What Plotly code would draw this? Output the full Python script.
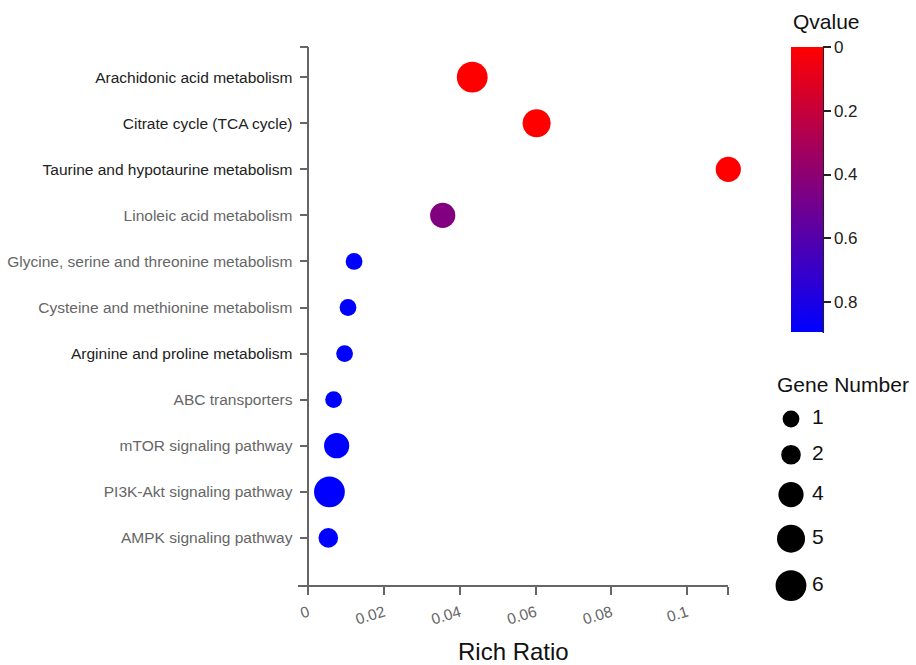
import plotly.graph_objects as go

# Enrichment results (top to bottom)
pathways = [
    "Arachidonic acid metabolism",
    "Citrate cycle (TCA cycle)",
    "Taurine and hypotaurine metabolism",
    "Linoleic acid metabolism",
    "Glycine, serine and threonine metabolism",
    "Cysteine and methionine metabolism",
    "Arginine and proline metabolism",
    "ABC transporters",
    "mTOR signaling pathway",
    "PI3K-Akt signaling pathway",
    "AMPK signaling pathway",
]
rich_ratio = [0.0433, 0.0603, 0.1109, 0.0355, 0.0121, 0.0105, 0.0096, 0.0067, 0.0075, 0.0056, 0.0053]
gene_number = [6, 5, 4, 4, 1, 1, 1, 1, 4, 6, 2]
qvalue = [0.0, 0.0, 0.0, 0.446, 0.892, 0.892, 0.892, 0.892, 0.892, 0.892, 0.892]
dark_labels = {"Arachidonic acid metabolism", "Citrate cycle (TCA cycle)",
               "Taurine and hypotaurine metabolism", "Arginine and proline metabolism"}

x_ticks = [0, 0.02, 0.04, 0.06, 0.08, 0.1]
x_tick_text = ["0", "0.02", "0.04", "0.06", "0.08", "0.1"]
q_ticks = [0, 0.2, 0.4, 0.6, 0.8]
legend_genes = [1, 2, 4, 5, 6]

W, H = 916, 665
FONT = "Liberation Sans, Arial, sans-serif"


def diameter(n):
    return 14 + 2.8 * n


qmax = max(qvalue)
x_max = max(rich_ratio)
x_min = -0.0027
y_top, y_bot = -0.655, len(pathways) + 0.045

# plot area in pixels
px_l, px_r, px_t, px_b = 298, 728.3, 47, 586
# size-key area in pixels
kx0, kx1, ky0, ky1 = 760, 916, 395, 620

fig = go.Figure()

fig.add_trace(go.Scatter(
    x=rich_ratio,
    y=list(range(len(pathways))),
    mode="markers",
    cliponaxis=False,
    marker=dict(
        size=[diameter(n) for n in gene_number],
        color=[-q for q in qvalue],
        cmin=-qmax, cmax=0,
        colorscale=[[0, "#0000ff"], [1, "#ff0000"]],
        line=dict(width=0),
        opacity=1,
        showscale=True,
        colorbar=dict(
            x=790.7 / W, xanchor="left", xpad=0,
            y=1 - 46.7 / H, yanchor="top", ypad=0,
            len=285, lenmode="pixels",
            thickness=32, thicknessmode="pixels",
            outlinewidth=0,
            tickmode="array",
            tickvals=[-t for t in q_ticks],
            ticktext=[f"{t:g}" for t in q_ticks],
            ticks="outside", ticklen=8, tickwidth=1.5, tickcolor="#222",
            tickfont=dict(family=FONT, size=17, color="#222"),
        ),
    ),
    showlegend=False,
    hoverinfo="skip",
))

# Gene Number size key
ys = []
y = 419
for i, n in enumerate(legend_genes):
    if i > 0:
        y += (diameter(legend_genes[i - 1]) + diameter(n)) / 2 + 17.5
    ys.append(y)

fig.add_trace(go.Scatter(
    x=[791] * len(legend_genes), y=ys, xaxis="x2", yaxis="y2",
    mode="markers", cliponaxis=False,
    marker=dict(size=[diameter(n) for n in legend_genes], color="#000000",
                opacity=1, line=dict(width=0)),
    showlegend=False, hoverinfo="skip",
))
fig.add_trace(go.Scatter(
    x=[812] * len(legend_genes), y=ys, xaxis="x2", yaxis="y2",
    mode="text", text=[str(n) for n in legend_genes], textposition="middle right",
    textfont=dict(family=FONT, size=21, color="#111"), cliponaxis=False,
    showlegend=False, hoverinfo="skip",
))

tick_vals = [y_top] + list(range(len(pathways))) + [y_bot]
tick_text = [""] + [
    f'<span style="color:{"#222" if p in dark_labels else "#666"}">{p}</span>' for p in pathways
] + [""]

fig.update_layout(
    width=W, height=H,
    margin=dict(l=0, r=0, t=0, b=0),
    paper_bgcolor="white", plot_bgcolor="rgba(0,0,0,0)",
    font=dict(family=FONT),
    xaxis=dict(
        domain=[px_l / W, px_r / W],
        range=[x_min, x_max],
        tickmode="array",
        tickvals=x_ticks + [x_max],
        ticktext=x_tick_text + [""],
        tickangle=-17,
        ticks="outside", ticklen=8, tickwidth=1.5, tickcolor="#666",
        ticklabelstandoff=3,
        tickfont=dict(family=FONT, size=15.5, color="#666"),
        showline=True, linecolor="#666", linewidth=1.5,
        showgrid=False, zeroline=False,
        anchor="free", position=1 - px_b / H,
    ),
    yaxis=dict(
        domain=[1 - px_b / H, 1 - px_t / H],
        range=[y_bot, y_top],
        tickmode="array",
        tickvals=tick_vals,
        ticktext=tick_text,
        ticks="outside", ticklen=8, tickwidth=1.5, tickcolor="#666",
        ticklabelstandoff=4,
        tickfont=dict(family=FONT, size=15.5, color="#666"),
        showline=True, linecolor="#666", linewidth=1.5,
        showgrid=False, zeroline=False,
        anchor="free", position=308.3 / W,
    ),
    xaxis2=dict(domain=[kx0 / W, kx1 / W], range=[kx0, kx1], visible=False, anchor="y2"),
    yaxis2=dict(domain=[1 - ky1 / H, 1 - ky0 / H], range=[ky1, ky0], visible=False, anchor="x2"),
    annotations=[
        dict(text="Rich Ratio", x=(px_l + px_r) / 2 / W, y=1 - 651 / H,
             xref="paper", yref="paper", xanchor="center", yanchor="middle",
             showarrow=False, font=dict(family=FONT, size=24, color="#111")),
        dict(text="Qvalue", x=791 / W, y=1 - 22 / H,
             xref="paper", yref="paper", xanchor="left", yanchor="middle",
             showarrow=False, font=dict(family=FONT, size=21, color="#111")),
        dict(text="Gene Number", x=775 / W, y=1 - 384 / H,
             xref="paper", yref="paper", xanchor="left", yanchor="middle",
             showarrow=False, font=dict(family=FONT, size=21, color="#111")),
    ],
    shapes=[
        dict(type="line", xref="paper", yref="paper",
             x0=823.3 / W, x1=823.3 / W, y0=1 - 46.7 / H, y1=1 - 333 / H,
             line=dict(color="#222", width=1.5)),
    ],
)

fig.write_html("out.html")
